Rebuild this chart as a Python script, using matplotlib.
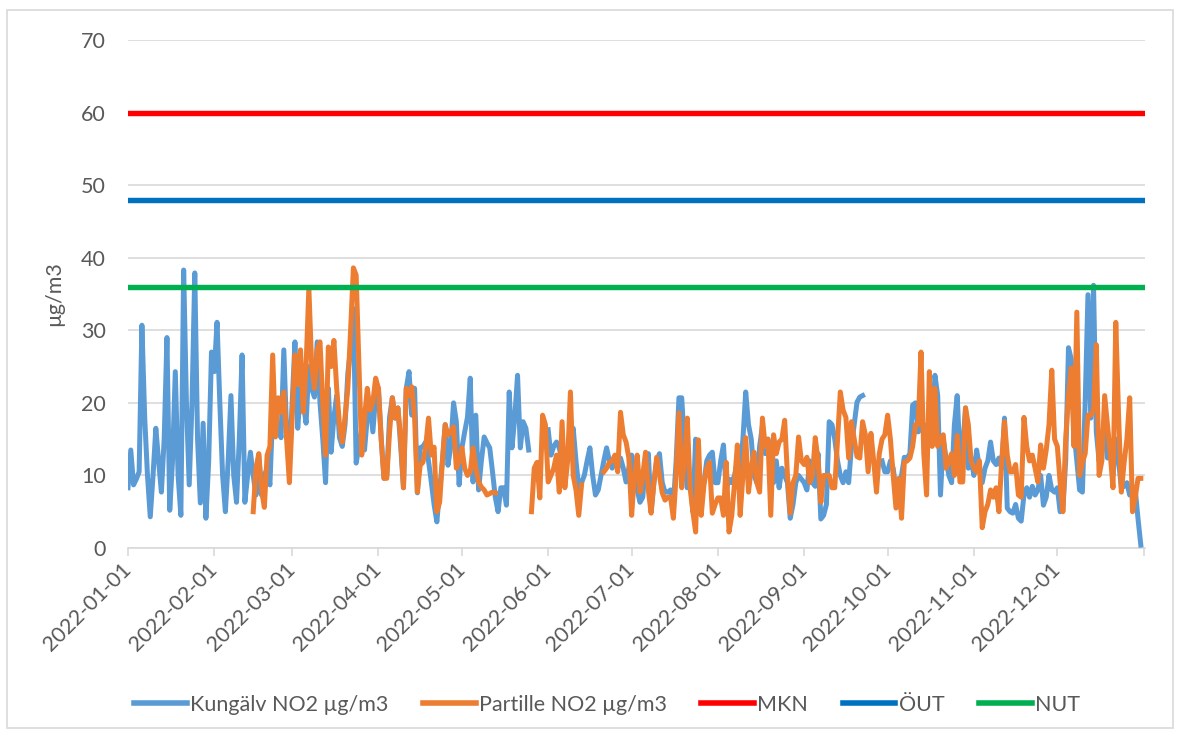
import numpy as np
import pandas as pd
import matplotlib
matplotlib.use("Agg")
import matplotlib.pyplot as plt
import matplotlib.dates as mdates
from matplotlib.patches import Rectangle

plt.rcParams['font.family'] = ['Lato', 'DejaVu Sans']

nan = np.nan
dates = pd.date_range('2022-01-01', '2022-12-31', freq='D')

kungalv_jan = [8.3, 13.5, 8.7, 9.5, 10.5, 30.7, 18, 10, 4.3, 10, 16.5, 12, 7.7, 15, 29, 5.2, 12, 24.3, 10, 4.5,
               38.3, 20, 8.7, 20, 37.9, 15, 6.2, 17.2, 4.1, 12, 27]
kungalv_feb = [24.3, 31.1, 20, 10, 5, 12, 21, 10, 6.3, 15, 26.6, 6.3, 10, 13.2, 10, 7.3, 12.8, 7.3, 10, 11,
               8.7, 18.7, 15.6, 17, 15.2, 27.3, 16, 12]
kungalv_mar = [20, 28.4, 16.5, 22, 20, 17.2, 25, 22, 20.8, 28.4, 20, 15, 9, 22, 13.2, 18, 21, 15.2, 14, 17,
               24, 27.6, 33, 11.7, 14, 16.5, 13.5, 18, 20, 16, 21]
kungalv_apr = [22, 15, 9.6, 10, 18, 20.7, 17.9, 19.3, 14, 8.3, 22, 24.3, 18.3, 22, 7.6, 13.8, 14, 14.6, 12, 9.1,
               6, 3.6, 8, 12, 17, 11.4, 14, 20, 17.4, 8.7]
kungalv_may = [13.8, 16, 18, 23.4, 9.1, 18.3, 8, 12, 15.3, 14.5, 13.8, 10.5, 7, 5, 8.3, 8.3, 5.9, 21.5, 13.8, 18,
               23.8, 13.8, 17.4, 16.5, 13.5, nan, nan, nan, nan, nan, nan]
kungalv_jun = [16.3, 12.8, 14, 14.6, 13.8, 12, 10, 13, 15, 16.5, 12, 8.3, 9, 10, 12, 13.8, 10, 7.3, 8, 10,
               12, 13.8, 12, 11, 12, 11, 12.4, 11, 9.1, 11]
kungalv_jul = [12.8, 10, 8, 6.3, 7, 12, 13, 5, 9, 12, 13, 9, 7.7, 7.7, 8, 6, 12, 20.7, 20.7, 14,
               8.3, 10, 5, 15, 10, 8.5, 9, 12, 12.8, 13.2, 9]
kungalv_aug = [9, 12, 14.2, 8, 9.5, 9, 10, 12, 11, 15, 21.5, 17, 15, 10, 9, 14, 16.8, 13, 15, 10,
               9, 12, 8.3, 11, 10, 9, 4.1, 6, 9, 10, 9.5]
kungalv_sep = [9, 8, 12, 9, 8.5, 13, 4, 4.5, 6, 17.4, 17, 15, 12, 10, 9, 10.5, 9, 14, 17, 20.1,
               20.8, 21, nan, nan, nan, nan, nan, nan, 12, 10.5]
kungalv_oct = [10.5, 12, 11, 8, 7.7, 10, 12.5, 12.4, 13, 19.7, 20, 16, 16.5, 17, 14, 18, 15, 23.8, 21, 7.3,
               15, 12.4, 10, 9, 17, 21, 12.4, 14, 19.3, 11, 12.4]
kungalv_nov = [10, 13.5, 11, 9, 11, 12, 14.6, 12, 11.5, 12.4, 11, 17.9, 5.5, 5, 4.8, 6, 4.1, 3.7, 7.3, 8.3,
               7, 8.5, 7.3, 8, 10, 5.9, 7, 10, 8, 7.7]
kungalv_dec = [8.3, 5, 5.5, 12, 27.6, 26, 16, 12, 8, 7.7, 20, 34.9, 17.9, 36.2, 16, 12, 13.5, 17, 12.4, 14,
               10, 15, 12, 8.3, 8.5, 9, 7.3, 8.5, 8, 4, 0.4]

partille_jan = [nan] * 31
partille_feb = [nan] * 14 + [5, 11, 13, 8, 5.6, 12.8, 14, 26.6, 15.3, 20.7, 18.7, 21.5, 15, 9]
partille_mar = [18, 26.6, 22.5, 27.3, 18.7, 25, 35.8, 25.2, 22, 27.3, 28.4, 20, 12.8, 27.7, 25, 28.6, 22, 17, 14.6, 18,
                22, 30, 38.6, 37.6, 25, 12.8, 17.9, 22, 19, 20.1, 23.4]
partille_apr = [22, 15, 9.6, 9.6, 16, 20.7, 17.9, 19.3, 15, 8.3, 22, 21, 22.2, 18, 7.7, 11.4, 11.8, 14, 17.9, 12.8,
                13.9, 5, 6.3, 12, 17, 15.6, 16, 16.7, 11, 12]
partille_may = [13.8, 11, 10, 10.5, 13.8, 11, 9.1, 8.4, 8, 7.3, 7.5, 7.7, 7.6] + [nan] * 12 + \
               [5, 11, 11.8, 6.9, 18.3, 17]
partille_jun = [9.1, 10, 11, 12.8, 7.7, 17.4, 8.3, 12, 21.5, 10, 8, 4.5, 8.7] + [nan] * 7 + \
               [10.5, 11, 11.8, 12, 12.8, 10.5, 18.7, 15.6, 14.6, 12.4]
partille_jul = [4.5, 10, 12.8, 7.7, 10, 13.2, 8, 4.8, 9, 12.5, 10, 7.6, 6.6, 7, 7, 4.1, 10, 18.6, 8.3, 12,
                17.9, 8.3, 5, 2.2, 14.9, 4.5, 8.7, 11, 11.8, 4.8, 6]
partille_aug = [6.9, 6.9, 4.5, 11.8, 2.2, 4.5, 9, 14.2, 4.5, 10, 15.2, 7.7, 11, 13.2, 9, 7.7, 17.9, 14, 15, 4.5,
                15.6, 13, 14.6, 15, 17.6, 10, 4.8, 9, 10, 15.3, 12]
partille_sep = [11.5, 12.5, 9, 10, 15.2, 12, 6.3, 10, 10, 10, 8.3, 8.3, 15, 21.5, 19, 18, 12.4, 17.4, 15, 12.6,
                12.4, 17.4, 15.6, 10.5, 15.8, 12, 7.7, 13, 15, 15.6]
partille_oct = [18.3, 15, 10, 5.5, 9.6, 4.1, 11.8, 12, 12.4, 14, 17, 17, 27, 13, 7.3, 24.3, 14, 22, 14, 15,
                15.6, 11, 12, 13, 10, 15.5, 9.1, 9.1, 19.3, 17, 12]
partille_nov = [11, 10.5, 12, 2.8, 5, 6, 8, 7, 8.3, 5, 12, 17.4, 12.8, 10.5, 10.5, 11.5, 7.3, 7, 18, 14,
                12, 12.8, 11, 9.1, 14.2, 11, 13.5, 17, 24.5, 15]
partille_dec = [14, 9, 5, 15, 21, 24.8, 14, 32.5, 10, 11.8, 13, 18.3, 18.3, 19, 28, 10, 12, 21, 17, 13,
                8.3, 31.1, 18.3, 7.7, 11.8, 15, 20.7, 5, 7, 9.6, 9.6]

kungalv = (kungalv_jan + kungalv_feb + kungalv_mar + kungalv_apr + kungalv_may + kungalv_jun +
           kungalv_jul + kungalv_aug + kungalv_sep + kungalv_oct + kungalv_nov + kungalv_dec)
partille = (partille_jan + partille_feb + partille_mar + partille_apr + partille_may + partille_jun +
            partille_jul + partille_aug + partille_sep + partille_oct + partille_nov + partille_dec)

MKN = 60
OUT = 48
NUT = 36

series_labels = ['Kungälv NO2 µg/m3', 'Partille NO2 µg/m3', 'MKN', 'ÖUT', 'NUT']
colors = ['#5B9BD5', '#ED7D31', '#FF0000', '#0070C0', '#00B050']
y_ticks = [0, 10, 20, 30, 40, 50, 60, 70]
tick_dates = pd.date_range('2022-01-01', '2022-12-01', freq='MS')
tick_labels = [d.strftime('%Y-%m-%d') for d in tick_dates]

fig = plt.figure(figsize=(11.8, 7.35), dpi=100)
ax = fig.add_axes([128 / 1180, 1 - 548 / 735, (1145 - 128) / 1180, (548 - 40) / 735])

text_color = '#595959'
grid_color = '#D9D9D9'

ax.plot(dates, kungalv, color=colors[0], lw=3.6, solid_joinstyle='round', label=series_labels[0], zorder=3)
ax.plot(dates, partille, color=colors[1], lw=3.6, solid_joinstyle='round', label=series_labels[1], zorder=4)
ax.axhline(MKN, color=colors[2], lw=3.9, label=series_labels[2], zorder=5)
ax.axhline(OUT, color=colors[3], lw=3.9, label=series_labels[3], zorder=5)
ax.axhline(NUT, color=colors[4], lw=3.9, label=series_labels[4], zorder=5)

x0 = pd.Timestamp('2022-01-01')
x1 = pd.Timestamp('2023-01-01') + pd.Timedelta(hours=12)
ax.set_xlim(mdates.date2num(x0), mdates.date2num(x1))
ax.set_ylim(0, 70)

ax.set_yticks(y_ticks)
ax.set_yticklabels([str(v) for v in y_ticks])
ax.yaxis.grid(True, color=grid_color, lw=1.2, zorder=0)
ax.set_axisbelow(True)

ax.set_xticks(mdates.date2num(tick_dates))
ax.set_xticklabels(tick_labels, rotation=45, ha='right', va='center', rotation_mode='anchor')
ax.set_xticks([mdates.date2num(pd.Timestamp('2023-01-01'))], minor=True)

for s in ['top', 'right', 'left']:
    ax.spines[s].set_visible(False)
ax.spines['bottom'].set_color(grid_color)
ax.spines['bottom'].set_linewidth(1.2)

ax.tick_params(axis='y', length=0, pad=16, labelsize=15.5, labelcolor=text_color)
ax.tick_params(axis='x', which='both', length=5.5, width=1.2, color=grid_color, direction='out',
               pad=8, labelsize=15.5, labelcolor=text_color)

ax.set_ylabel('µg/m3', fontsize=15.5, color=text_color, labelpad=12)

handles, labels = ax.get_legend_handles_labels()
leg = fig.legend(handles, labels, loc='center', bbox_to_anchor=(607 / 1180, 1 - 705 / 735),
                 ncol=5, frameon=False, fontsize=15.5, handlelength=2.45, handletextpad=0.15,
                 columnspacing=1.6, labelcolor=text_color)
for line in leg.get_lines():
    line.set_linewidth(4)

fig.patches.append(Rectangle((7 / 1180, 1 - 728 / 735), (1173 - 7) / 1180, (728 - 10) / 735,
                             transform=fig.transFigure, fill=False, edgecolor=grid_color, lw=1.2))

fig.savefig('out.png', dpi=100)
